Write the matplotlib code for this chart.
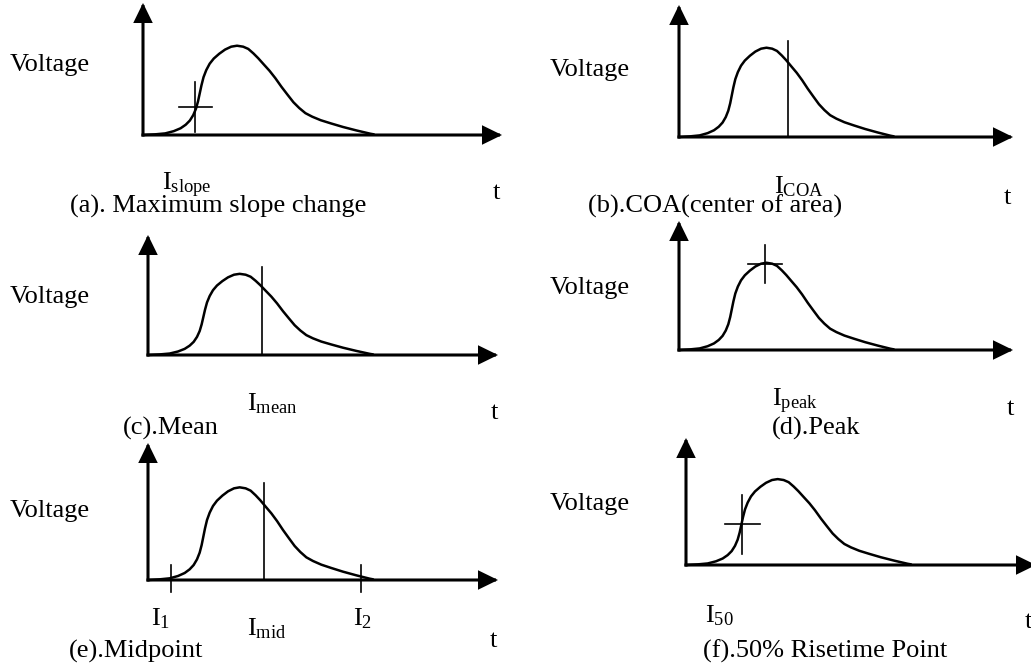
import matplotlib
matplotlib.use('Agg')
import matplotlib.pyplot as plt

# one pulse shape (t: 10 = arrow tip, v: 10 = arrow tip)
PULSE_T = [0, 0.333, 0.619, 0.857, 1.048, 1.190, 1.305, 1.400, 1.476, 1.533, 1.581,
           1.629, 1.686, 1.762, 1.857, 1.971, 2.124, 2.286, 2.457, 2.619, 2.790,
           2.933, 3.076, 3.210, 3.362, 3.524, 3.686, 3.857, 4.029, 4.190, 4.352,
           4.524, 4.714, 4.952, 5.238, 5.571, 5.952, 6.333, 6.430]
PULSE_V = [0, 0.049, 0.122, 0.292, 0.511, 0.779, 1.095, 1.509, 1.995, 2.555, 3.163,
           3.771, 4.380, 4.915, 5.401, 5.791, 6.156, 6.472, 6.691, 6.764, 6.691,
           6.521, 6.180, 5.815, 5.353, 4.866, 4.307, 3.650, 3.041, 2.482, 2.044,
           1.655, 1.387, 1.119, 0.876, 0.608, 0.341, 0.097, 0.050]

CAPTIONS = ['(a). Maximum slope change', '(b).COA(center of area)', '(c).Mean',
            '(d).Peak', '(e).Midpoint', '(f).50% Risetime Point']
MARK_LABELS = [r'$\mathrm{I}_{\mathrm{slope}}$', r'$\mathrm{I}_{\mathrm{COA}}$',
               r'$\mathrm{I}_{\mathrm{mean}}$', r'$\mathrm{I}_{\mathrm{peak}}$',
               r'$\mathrm{I}_{\mathrm{mid}}$', r'$\mathrm{I}_{50}$']
MARK_KIND = ['cross', 'line', 'line', 'cross', 'line', 'cross']
MARK_T = [1.45, 3.26, 3.26, 2.57, 3.31, 1.60]
MARK_V = [2.10, 7.27, 7.33, 6.67, 7.08, 3.20]

# integration bounds in panel (e)
BOUND_LABELS = [r'$\mathrm{I}_{1}$', r'$\mathrm{I}_{2}$']
BOUND_T = [0.66, 6.09]

W, H = 1031, 668

# layout in pixels: origin x, origin y, x arrow tip, y arrow tip
BOXES = [(143, 135, 502, 3), (679, 137, 1013, 5),
         (148, 355, 498, 235), (679, 350, 1013, 221),
         (148, 580, 498, 443), (686, 565, 1036, 438)]
# cross arm sizes (t half width, v half height)
CROSS = [(0.46, 1.9), None, None, (0.51, 1.44), None, (0.5, 2.3)]
# text anchors (left, baseline) in pixels
VOLT_XY = [(10, 71), (550, 76), (10, 303), (550, 294), (10, 517), (550, 510)]
MARK_XY = [(162, 190), (774, 193), (247, 410), (772, 406), (247, 635), (705, 622)]
CAP_XY = [(70, 213), (588, 213), (123, 435), (772, 435), (69, 658), (703, 658)]
T_XY = [(493, 199), (1004, 204), (491, 419), (1007, 415), (490, 647), (1025, 628)]
BOUND_XY = [(151, 625), (353, 625)]


def fx(x):
    return x / W


def fy(y):
    return 1 - y / H


def main():
    plt.rcParams['font.family'] = ['Liberation Serif', 'DejaVu Serif']
    plt.rcParams['mathtext.fontset'] = 'custom'
    plt.rcParams['mathtext.rm'] = 'Liberation Serif'
    plt.rcParams['mathtext.it'] = 'Liberation Serif:italic'
    fs = 19

    fig = plt.figure(figsize=(W / 100, H / 100), dpi=100)
    arrow = dict(arrowstyle='-|>,head_length=0.45,head_width=0.22', mutation_scale=24,
                 lw=2.2, color='black', shrinkA=0, shrinkB=0,
                 capstyle='projecting', joinstyle='miter')

    for i, (ox, oy, tx, ty) in enumerate(BOXES):
        ax = fig.add_axes([fx(ox), fy(oy), (tx - ox) / W, (oy - ty) / H])
        ax.set_xlim(0, 10)
        ax.set_ylim(0, 10)
        ax.axis('off')

        ax.annotate('', xy=(10, 0), xytext=(0, 0), arrowprops=arrow, annotation_clip=False)
        ax.annotate('', xy=(0, 10), xytext=(0, 0), arrowprops=arrow, annotation_clip=False)
        ax.plot(PULSE_T, PULSE_V, color='black', lw=1.8, clip_on=False,
                solid_capstyle='round', solid_joinstyle='round')

        t, v = MARK_T[i], MARK_V[i]
        if MARK_KIND[i] == 'cross':
            dt, dv = CROSS[i]
            ax.plot([t - dt, t + dt], [v, v], color='black', lw=1.2, clip_on=False)
            ax.plot([t, t], [v - dv, v + dv], color='black', lw=1.2, clip_on=False)
        else:
            ax.plot([t, t], [0, v], color='black', lw=1.2, clip_on=False)

        if i == 4:
            for bt in BOUND_T:
                ax.plot([bt, bt], [-0.88, 1.09], color='black', lw=1.2, clip_on=False)
            for lab, (x, y) in zip(BOUND_LABELS, BOUND_XY):
                fig.text(fx(x), fy(y), lab, fontsize=fs, va='baseline', ha='left')

        fig.text(fx(VOLT_XY[i][0]), fy(VOLT_XY[i][1]), 'Voltage', fontsize=fs,
                 va='baseline', ha='left')
        fig.text(fx(MARK_XY[i][0]), fy(MARK_XY[i][1]), MARK_LABELS[i], fontsize=fs,
                 va='baseline', ha='left')
        fig.text(fx(CAP_XY[i][0]), fy(CAP_XY[i][1]), CAPTIONS[i], fontsize=fs,
                 va='baseline', ha='left')
        fig.text(fx(T_XY[i][0]), fy(T_XY[i][1]), 't', fontsize=fs,
                 va='baseline', ha='left')

    fig.savefig('out.png', dpi=100, facecolor='white')


if __name__ == '__main__':
    main()
